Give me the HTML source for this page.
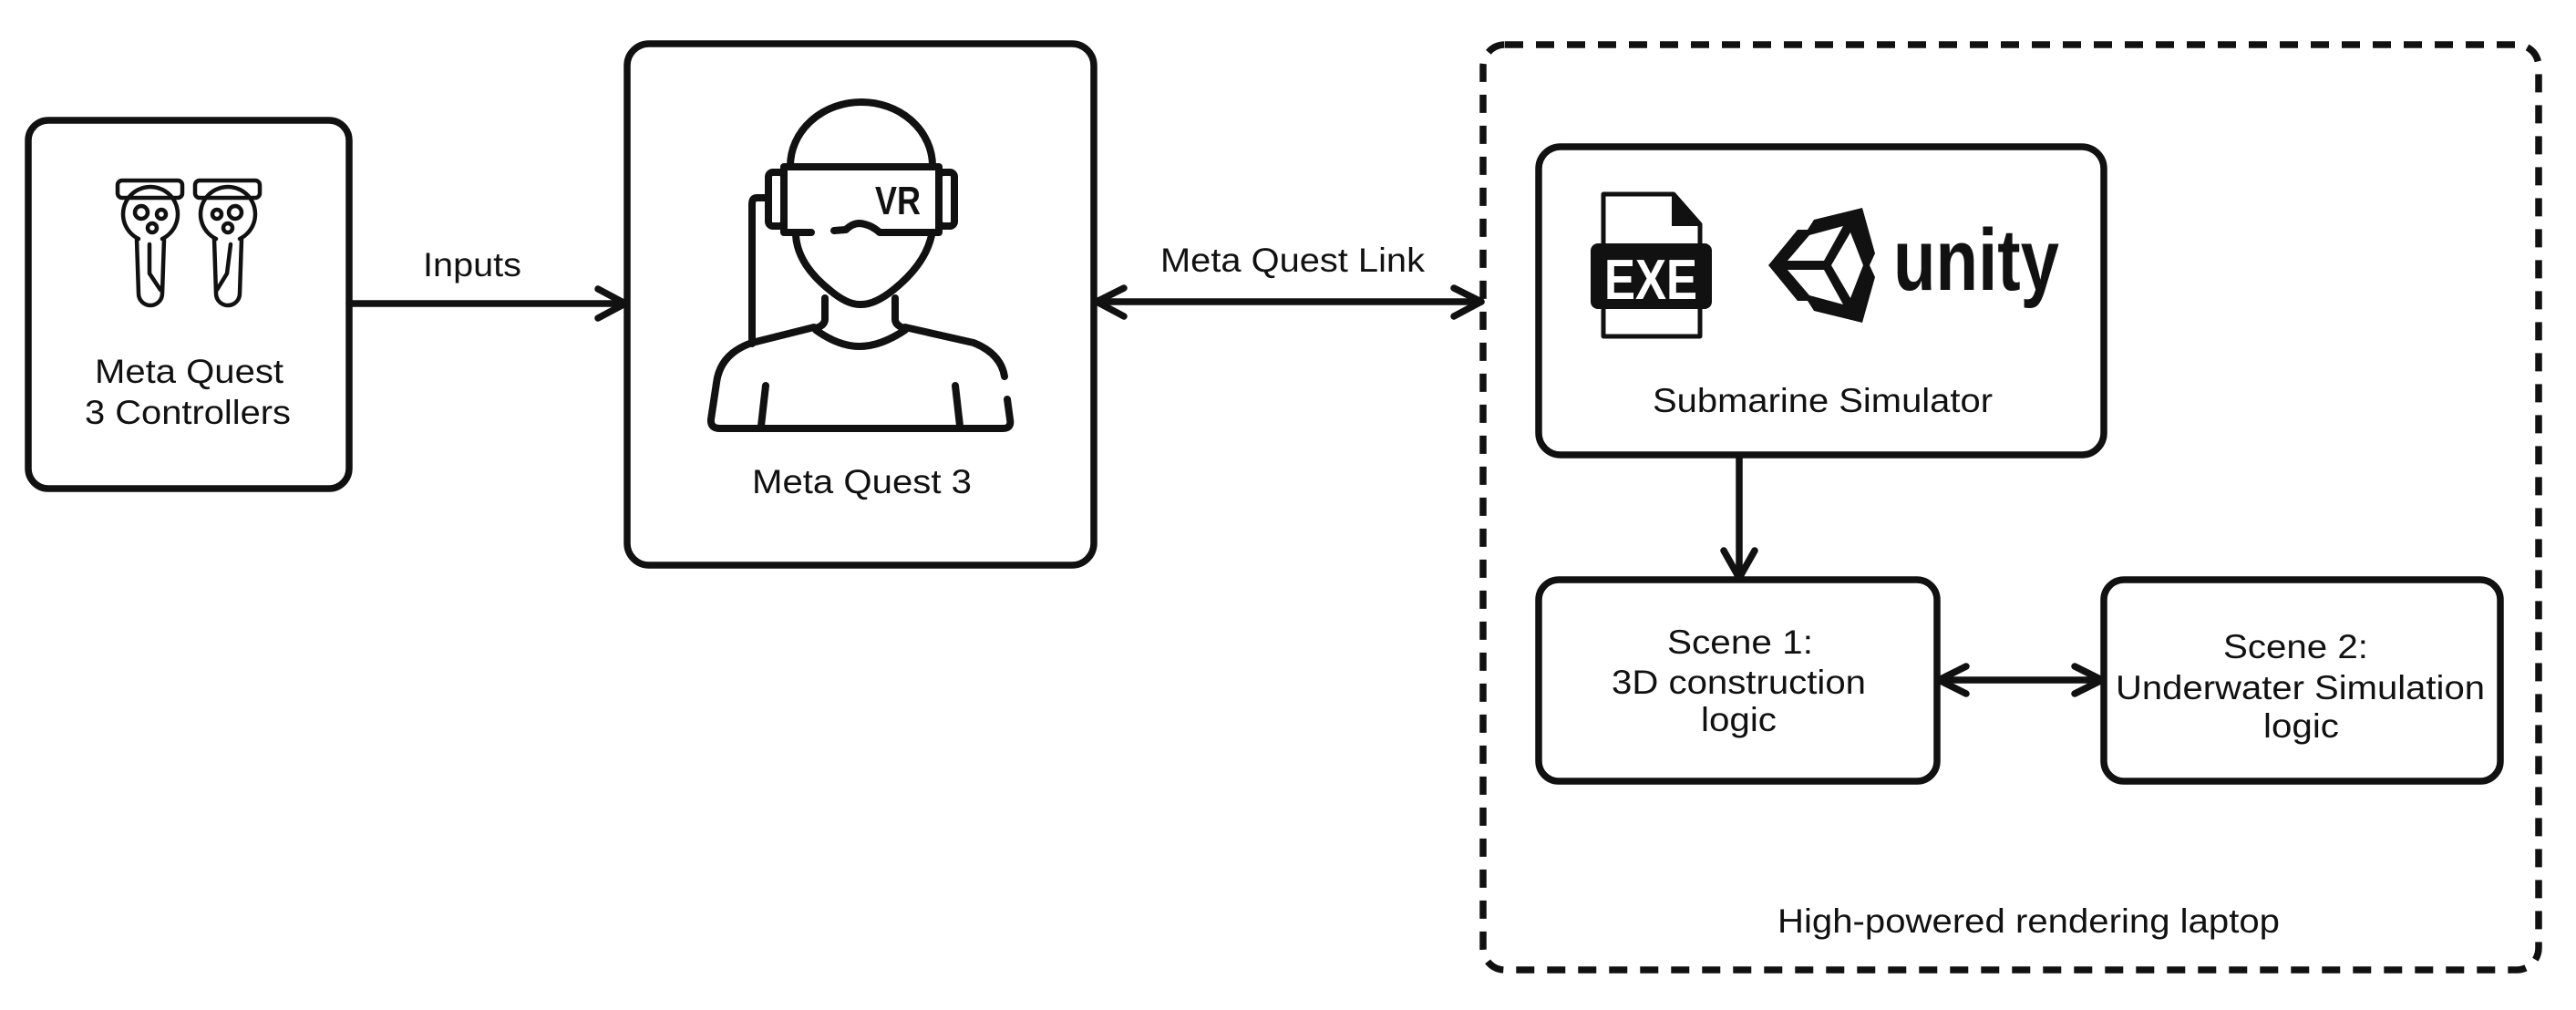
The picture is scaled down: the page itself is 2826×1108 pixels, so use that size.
<!DOCTYPE html>
<html><head><meta charset="utf-8"><style>
html,body{margin:0;padding:0;background:#fff;}
svg{display:block;}
text{font-family:"Liberation Sans",sans-serif;fill:#111;}
</style></head><body>
<svg width="2826" height="1108" viewBox="0 0 2826 1108" xmlns="http://www.w3.org/2000/svg">
<g fill="none" stroke="#111" stroke-width="7.5" stroke-linecap="round" stroke-linejoin="round">
<rect x="31" y="132" width="352" height="404" rx="22"/>
<rect x="688" y="48" width="512" height="572" rx="24"/>
<rect x="1627" y="49" width="1158" height="1015" rx="24" stroke-dasharray="20 14" stroke-linecap="butt"/>
<rect x="1688" y="161" width="620" height="338" rx="24"/>
<rect x="1688" y="636" width="437" height="221" rx="22"/>
<rect x="2308" y="636" width="435" height="221" rx="22"/>
<line x1="383" y1="333" x2="686" y2="333"/>
<polyline points="656,317 686,333 656,349"/>
<line x1="1202" y1="331" x2="1625" y2="331"/>
<polyline points="1233,316 1203,331 1233,347"/>
<polyline points="1595,316 1625,331 1595,347"/>
<line x1="1908" y1="500" x2="1908" y2="634"/>
<polyline points="1891,604 1908,634 1925,604"/>
<line x1="2127" y1="746" x2="2306" y2="746"/>
<polyline points="2157,731 2127,746 2157,761"/>
<polyline points="2276,731 2306,746 2276,761"/>
</g>
<g fill="none" stroke="#111" stroke-width="4.5" stroke-linecap="round" stroke-linejoin="round">
<g>
<rect x="129" y="198" width="71" height="19" rx="5"/>
<path d="M152,262 A30,30 0 1 1 178,262"/>
<circle cx="155" cy="233" r="7"/><circle cx="177" cy="235" r="5"/><circle cx="167" cy="250" r="5"/>
<path d="M150,262 L152,322 A13,13 0 0 0 178,322 L180,262"/>
<path d="M164,268 L164,300 L176,318"/>
</g>
<g transform="translate(85,0)">
<rect x="129" y="198" width="71" height="19" rx="5"/>
<path d="M152,262 A30,30 0 1 1 178,262"/>
<circle cx="153" cy="235" r="5"/><circle cx="173" cy="233" r="7"/><circle cx="165" cy="250" r="5"/>
<path d="M150,262 L152,322 A13,13 0 0 0 178,322 L180,262"/>
<path d="M168,268 L164,300 L153,318"/>
</g>
</g>
<g fill="none" stroke="#111" stroke-width="8" stroke-linecap="round" stroke-linejoin="round">
<path d="M867,182 A78,70 0 0 1 1023,182"/>
<path d="M860,255 L860,183 L1030,183 L1030,255 L965,255 Q955,246 943,245 Q935,245 928,252 L915,253"/>
<line x1="890" y1="255" x2="862" y2="255"/>
<rect x="843" y="189" width="17" height="59" rx="5"/>
<rect x="1030" y="189" width="17" height="59" rx="5"/>
<path d="M842,217 L830,217 Q825,217 825,224 L825,377"/>
<path d="M873,258 Q875,290 910,318 Q930,335 945,334 Q960,334 980,318 Q1015,290 1022,258"/>
<path d="M905,327 L905,350 Q905,357 895,360"/>
<path d="M982,327 L982,350 Q982,357 992,360"/>
<path d="M895,362 Q920,380 943,380 Q966,380 993,362"/>
<path d="M893,359 L825,376 Q790,388 786,420 L780,460 Q779,470 790,470 L1100,470 Q1110,470 1108,460 L1105,438"/>
<path d="M993,359 L1068,376 Q1098,388 1102,413"/>
<line x1="840" y1="423" x2="835" y2="467"/>
<line x1="1048" y1="423" x2="1053" y2="467"/>
</g>
<text x="985" y="235" font-size="44" font-weight="bold" text-anchor="middle" textLength="50" lengthAdjust="spacingAndGlyphs">VR</text>
<path d="M1759,213 L1836,213 L1865,246 L1865,369 L1759,369 Z" fill="none" stroke="#111" stroke-width="5" stroke-linejoin="round"/>
<path d="M1834,213 L1834,248 L1865,248 Z" fill="#111"/>
<rect x="1745" y="267" width="133" height="72" rx="8" fill="#111"/>
<text x="1811" y="328" font-size="62" font-weight="bold" text-anchor="middle" textLength="102" lengthAdjust="spacingAndGlyphs" style="fill:#fff">EXE</text>
<g fill="#111">
<path d="M2043,228 L1990,241 L1983,252 L1972,252 L1940,291 L1972,330 L1983,330 L1990,341 L2043,354 L2057,304 L2051,291 L2057,278 Z M2022,248 L2001,286 L1961,286 L1985,258 Z M2030,255 L2044,291 L2030,327 L2009,291 Z M1961,296 L2001,296 L2022,334 L1985,324 Z" fill-rule="evenodd"/>
</g>
<text x="2077" y="318" font-size="96" font-weight="bold" textLength="182" lengthAdjust="spacingAndGlyphs">unity</text>
<g font-size="37">
<text x="464" y="303" textLength="108" lengthAdjust="spacingAndGlyphs">Inputs</text>
<text x="1273" y="298" textLength="290" lengthAdjust="spacingAndGlyphs">Meta Quest Link</text>
<text x="104" y="420" textLength="207" lengthAdjust="spacingAndGlyphs">Meta Quest</text>
<text x="93" y="465" textLength="226" lengthAdjust="spacingAndGlyphs">3 Controllers</text>
<text x="825" y="541" textLength="241" lengthAdjust="spacingAndGlyphs">Meta Quest 3</text>
<text x="1813" y="452" textLength="373" lengthAdjust="spacingAndGlyphs">Submarine Simulator</text>
<text x="1829" y="717" textLength="160" lengthAdjust="spacingAndGlyphs">Scene 1:</text>
<text x="1768" y="761" textLength="279" lengthAdjust="spacingAndGlyphs">3D construction</text>
<text x="1866" y="802" textLength="83" lengthAdjust="spacingAndGlyphs">logic</text>
<text x="2439" y="722" textLength="159" lengthAdjust="spacingAndGlyphs">Scene 2:</text>
<text x="2321" y="767" textLength="405" lengthAdjust="spacingAndGlyphs">Underwater Simulation</text>
<text x="2483" y="809" textLength="83" lengthAdjust="spacingAndGlyphs">logic</text>
<text x="1950" y="1023" textLength="551" lengthAdjust="spacingAndGlyphs">High-powered rendering laptop</text>
</g>
</svg>
</body></html>
